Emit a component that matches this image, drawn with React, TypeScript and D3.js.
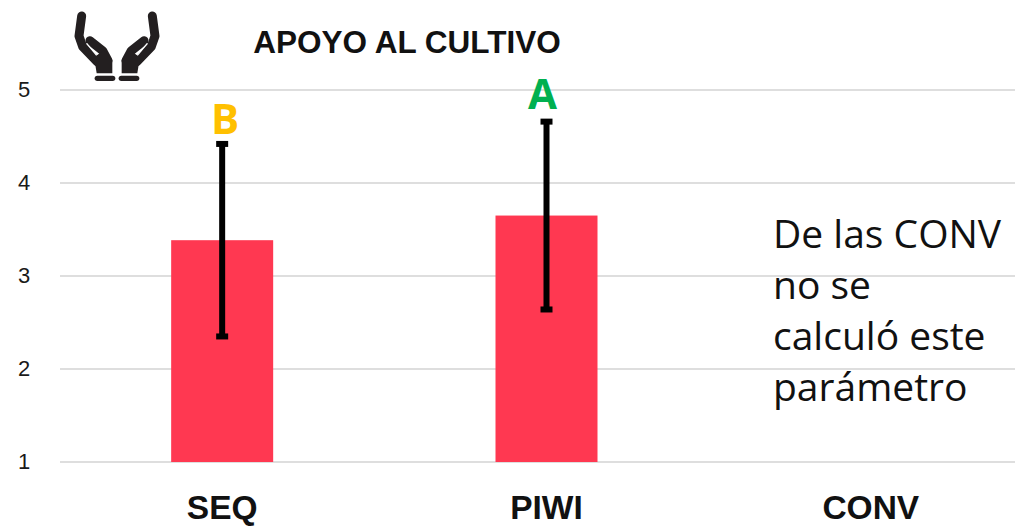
import React from "react";
import * as d3 from "d3";

const categories = ["SEQ", "PIWI", "CONV"];
const means = [3.385, 3.65, null];
const errLow = [2.35, 2.64, null];
const errHigh = [4.42, 4.66, null];
const letters = ["B", "A", null];
const letterColors = ["#FFC000", "#00B050", null];
const ticks = [1, 2, 3, 4, 5];
const title = "APOYO AL CULTIVO";
const noteLines = ["De las CONV", "no se", "calculó este", "parámetro"];

const W = 1015, H = 526;
const sans = "'Open Sans', 'Noto Sans', sans-serif";
const arial = "'Liberation Sans', Arial, sans-serif";

function Hand() {
  return (
    <g>
      <path d="M65,48 L57,108 L68,140 L112,186" fill="none" stroke="#231f20" strokeWidth={27} strokeLinecap="round" strokeLinejoin="round" />
      <path d="M90,122 L128,152 L144,182" fill="none" stroke="#231f20" strokeWidth={27} strokeLinecap="round" strokeLinejoin="round" />
      <path d="M112,165 L132,150 L157,180 L157,220 L110,220 L106,195 L90,168 Z" fill="#231f20" />
      <path d="M80,130 L110,166" fill="none" stroke="#fff" strokeWidth={4} />
      <rect x={104} y={227} width={62} height={16} rx={8} fill="#231f20" />
    </g>
  );
}

export default function App() {
  const y = d3.scaleLinear().domain([1, 5]).range([462, 90]);
  const x = d3.scaleBand<string>().domain(categories).range([60, 1033]).paddingInner(0).paddingOuter(0);
  const barW = 102;
  const cx = (c: string) => (x(c) as number) + x.bandwidth() / 2 + 0;
  return (
    <svg width={W} height={H} style={{ position: "absolute", left: 0, top: 0, background: "#fff" }}>
      {ticks.map((t) => (
        <g key={t}>
          <line x1={60} x2={W} y1={y(t)} y2={y(t)} stroke="#dedede" strokeWidth={2} />
          <text x={24} y={y(t) + 7} textAnchor="middle" fontFamily={arial} fontSize={22} fill="#1a1a1a">{t}</text>
        </g>
      ))}
      {categories.map((c, i) => {
        const m = means[i];
        const lo = errLow[i];
        const hi = errHigh[i];
        const lab = letters[i];
        const col = letterColors[i];
        return (
          <g key={c}>
            {m !== null && (
              <rect x={cx(c) - barW / 2} y={y(m)} width={barW} height={y(1) - y(m)} fill="#FF3851" />
            )}
            {lo !== null && hi !== null && (
              <g stroke="#000">
                <line x1={cx(c)} x2={cx(c)} y1={y(lo)} y2={y(hi)} strokeWidth={6} />
                <line x1={cx(c) - 6} x2={cx(c) + 6} y1={y(lo)} y2={y(lo)} strokeWidth={6} />
                <line x1={cx(c) - 6} x2={cx(c) + 6} y1={y(hi)} y2={y(hi)} strokeWidth={6} />
              </g>
            )}
            {lab && hi !== null && (
              <text x={cx(c) + (i === 0 ? 3 : -4)} y={y(hi) - (i === 0 ? 10 : 13)} textAnchor="middle" fontFamily={sans} fontWeight={700} fontSize={42} fill={col as string}>{lab}</text>
            )}
            <text x={cx(c)} y={518.5} textAnchor="middle" fontFamily={arial} fontWeight={700} fontSize={33.5} fill="#111">{c}</text>
          </g>
        );
      })}
      <text x={407} y={53} textAnchor="middle" fontFamily={arial} fontWeight={700} fontSize={31.5} fill="#111">{title}</text>
      {noteLines.map((l, i) => (
        <text key={l} x={773} y={248 + i * 51} fontFamily={sans} fontSize={39} fill="#111">{l}</text>
      ))}
      <g transform="translate(60,0) scale(0.3333)">
        <Hand />
        <g transform="translate(342,0) scale(-1,1)"><Hand /></g>
      </g>
    </svg>
  );
}
